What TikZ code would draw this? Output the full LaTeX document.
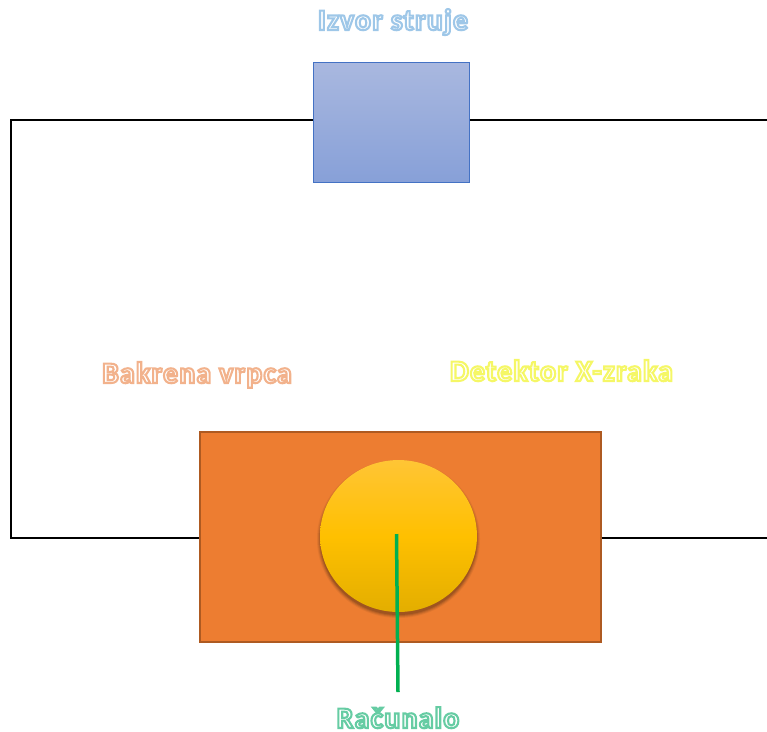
\documentclass[tikz,border=0pt]{standalone}
\usepackage{fontspec}
\setmainfont[LetterSpace=4]{Carlito}
\usetikzlibrary{positioning,shapes.geometric}

\definecolor{bakar}{HTML}{ED7D31}
\definecolor{bakarrub}{HTML}{AE5A21}
\definecolor{izvorrub}{HTML}{4472C4}
\definecolor{izvorgore}{HTML}{A9B8DF}
\definecolor{izvordolje}{HTML}{87A0D8}
\definecolor{zlatogore}{HTML}{FFC535}
\definecolor{zlato}{HTML}{FFC000}
\definecolor{zlatodolje}{HTML}{E3AE00}
\definecolor{vod}{HTML}{00B050}
% obrub teksta: boja kao tri broja, pa tekst
\newcommand{\obrub}[2]{{\color{white}\special{pdf:code q 2 Tr 1.2 w #1 RG 1 1 1 rg}#2\special{pdf:code Q}}}

\begin{document}
\begin{tikzpicture}[x=0.02cm,y=-0.02cm,semithick]
	\tikzstyle{every node}=[inner sep=0pt]
	\tikzstyle{natpis}=[anchor=base,font=\bfseries\fontsize{17}{20}\selectfont]
	\tikzstyle{zica}=[draw=black,line width=0.04cm]
	\useasboundingbox (0,0) rectangle (767,731);

	\node[draw=izvorrub,line width=0.02cm,minimum width=3.12cm,minimum height=2.4cm,top color=izvorgore,bottom color=izvordolje] (izvor) at (391.5,122.5) {};
	\node[draw=bakarrub,line width=0.03cm,fill=bakar,minimum width=8.02cm,minimum height=4.2cm] (vrpca) at (400.5,537) {};
	\coordinate (g1) at (11,120);
	\coordinate (g2) at (767,120);
	\coordinate (d1) at (11,537.5);
	\coordinate (d2) at (767,537.5);
	\coordinate (ulaz) at (396.5,534);

	\foreach \s/\o in {3/.08,2/.12,1/.16,0/.2}
		\fill[black!70!bakar,opacity=\o] (398.5,539) ellipse ({78.5+\s} and {76+\s});
	\node[ellipse,minimum width=3.14cm,minimum height=3.04cm,top color=zlatogore,bottom color=zlatodolje,middle color=zlato] (detektor) at (398.5,536) {};

	\node[natpis] (tizvor) at (393,30) {\obrub{0.62 0.78 0.91}{Izvor struje}};
	\node[natpis] (tvrpca) at (197,383) {\obrub{0.95 0.70 0.55}{Bakrena vrpca}};
	\node[natpis] (tdetektor) at (561.5,381) {\obrub{0.96 0.97 0.40}{Detektor X-zraka}};
	\node[natpis] (racunalo) at (398,728) {\obrub{0.40 0.80 0.64}{Računalo}};
	\coordinate (izlaz) at (398,692);

	\draw[zica] (izvor.west |- g1) -- (g1) -- (d1) -- (vrpca.west |- d1);
	\draw[zica] (izvor.east |- g2) -- (g2);
	\draw[zica] (vrpca.east |- d2) -- (d2);
	\draw[vod,line width=0.07cm] (ulaz) -- (izlaz);
\end{tikzpicture}
\end{document}
